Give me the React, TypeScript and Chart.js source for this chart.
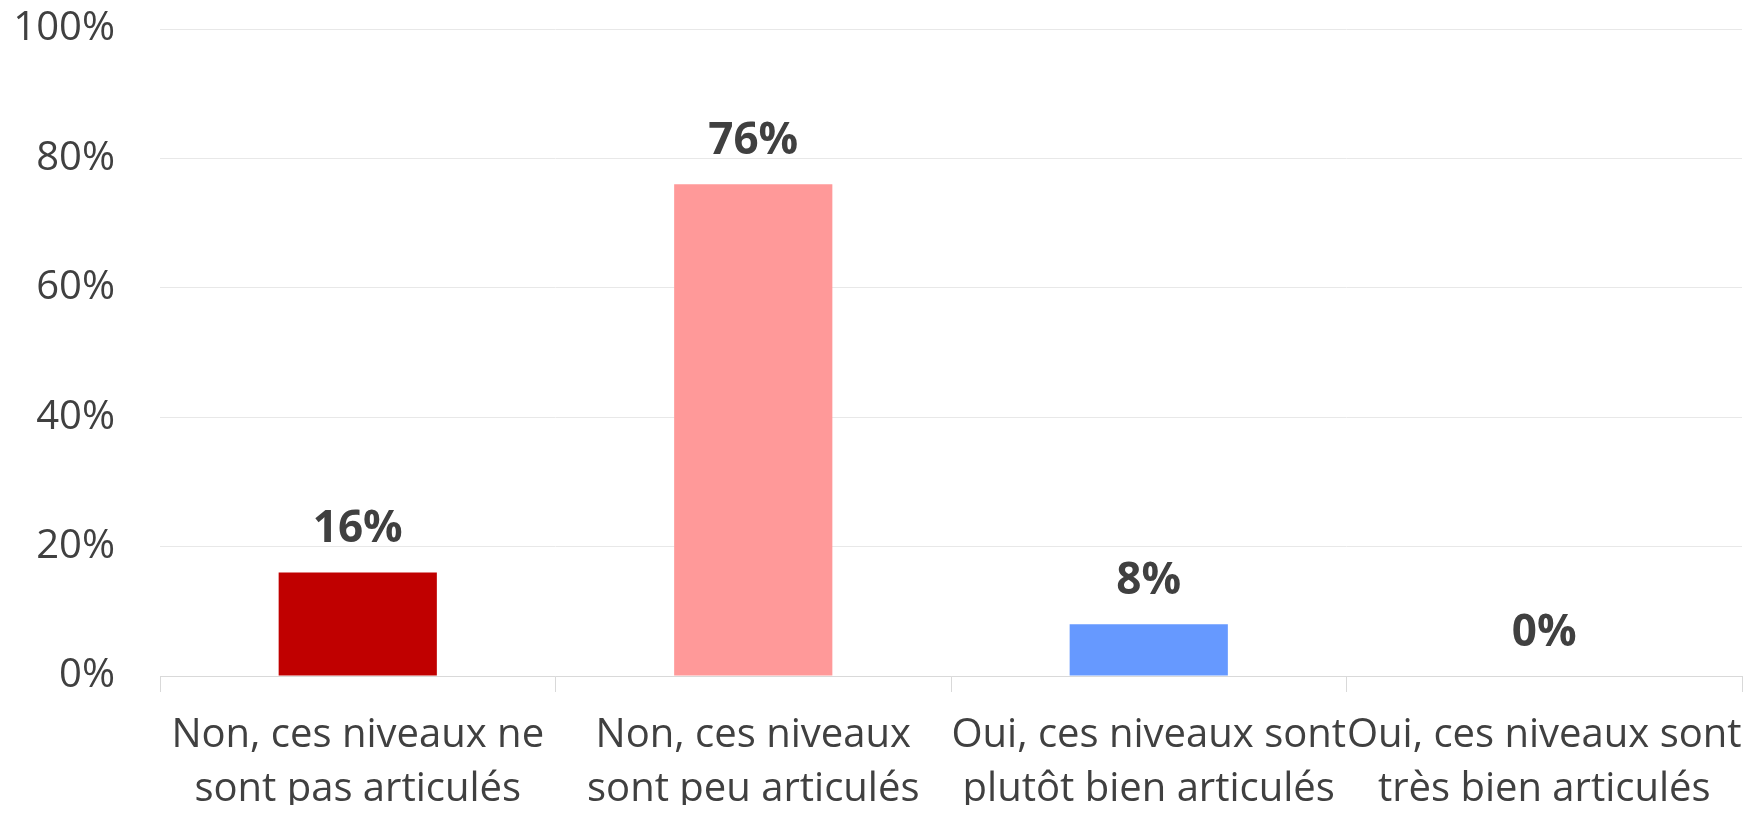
import React, { useEffect, useRef } from "react";
import { Chart, registerables } from "chart.js";

Chart.register(...registerables);

const categories: string[][] = [
  ["Non, ces niveaux ne", "sont pas articulés"],
  ["Non, ces niveaux", "sont peu articulés"],
  ["Oui, ces niveaux sont", "plutôt bien articulés"],
  ["Oui, ces niveaux sont", "très bien articulés"],
];
const values: number[] = [16, 76, 8, 0];
const barColors: string[] = ["#C00000", "#FF9999", "#6699FF", "#A5A5A5"];
const yTicks: number[] = [0, 20, 40, 60, 80, 100];

const FONT = "'Open Sans', 'Noto Sans', sans-serif";
const TEXT = "#404040";

const labelPlugin = {
  id: "valueLabels",
  afterDatasetsDraw(chart: any) {
    const ctx = chart.ctx;
    const meta = chart.getDatasetMeta(0);
    ctx.save();
    ctx.font = `bold 44px ${FONT}`;
    ctx.fillStyle = TEXT;
    ctx.textAlign = "center";
    ctx.textBaseline = "middle";
    meta.data.forEach((bar: any, i: number) => {
      ctx.fillText(`${values[i]}%`, bar.x, bar.y - 43);
    });
    ctx.restore();
  },
};

export default function App() {
  const ref = useRef<HTMLCanvasElement | null>(null);
  useEffect(() => {
    if (!ref.current) return;
    const chart = new Chart(ref.current, {
      type: "bar",
      data: {
        labels: categories,
        datasets: [
          {
            data: values,
            backgroundColor: barColors,
            barPercentage: 0.4,
            categoryPercentage: 1,
          },
        ],
      },
      options: {
        animation: false,
        responsive: true,
        maintainAspectRatio: false,
        layout: { padding: { top: 21, right: 3, left: 0, bottom: 0 } },
        plugins: {
          legend: { display: false },
          tooltip: { enabled: false },
          title: { display: false },
        },
        scales: {
          x: {
            grid: {
              display: true,
              drawOnChartArea: false,
              drawTicks: true,
              tickLength: 16,
              color: "#d9d9d9",
              offset: true,
            },
            border: { display: true, color: "#d9d9d9", width: 1 },
            ticks: {
              autoSkip: false,
              maxRotation: 0,
              minRotation: 0,
              padding: 17,
              color: TEXT,
              font: { family: FONT, size: 40, lineHeight: 1.35 },
            },
            afterFit: (scale: any) => {
              scale.height = 137;
              scale.paddingLeft = 0;
              scale.paddingRight = 0;
            },
          },
          y: {
            min: 0,
            max: 100,
            afterBuildTicks: (scale: any) => {
              scale.ticks = yTicks.map((v) => ({ value: v }));
            },
            grid: { color: "#e8e8e8", drawTicks: false, lineWidth: 1 },
            border: { display: false },
            ticks: {
              padding: 45,
              color: TEXT,
              font: { family: FONT, size: 40, lineHeight: 1 },
              callback: (v: any) => `${v}%`,
            },
            afterFit: (scale: any) => {
              scale.width = 152;
              scale.paddingTop = 0;
              scale.paddingBottom = 0;
            },
          },
        },
      },
      plugins: [labelPlugin],
    });
    return () => chart.destroy();
  }, []);
  return (
    <div style={{ width: 1737, height: 805, marginBottom: -8, position: "relative" }}>
      <canvas ref={ref} />
    </div>
  );
}
